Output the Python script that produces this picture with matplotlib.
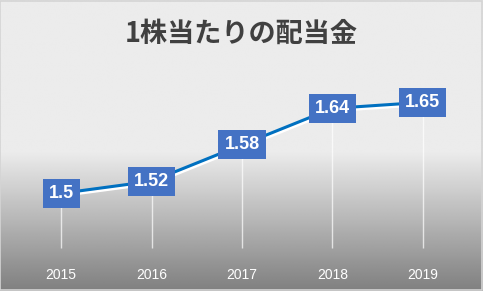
"""
1株当たりの配当金 — 折れ線グラフ（データラベル付き）
"""
import numpy as np
import matplotlib
matplotlib.use("Agg")
import matplotlib.pyplot as plt
import matplotlib.patheffects as pe

plt.rcParams["font.family"] = ["Noto Sans CJK JP", "DejaVu Sans"]

years = ["2015", "2016", "2017", "2018", "2019"]
dividends = [1.5, 1.52, 1.58, 1.64, 1.65]
title = "1株当たりの配当金"

W, H = 483, 291
fig = plt.figure(figsize=(W / 100, H / 100), dpi=100)

# 背景グラデーション（上は明るいグレー、下に向かって暗く）
bg = fig.add_axes([0, 0, 1, 1])
rows = np.linspace(0, 1, 300)
start = 0.52
shade = np.where(rows < start, 0.925,
                 0.925 - (rows - start) / (1 - start) * (0.925 - 0.50))
img = np.repeat(shade[:, None], 2, axis=1)
bg.imshow(img, cmap="gray", vmin=0, vmax=1, aspect="auto",
          extent=[0, 1, 1, 0], interpolation="bilinear")
bg.set_xlim(0, 1)
bg.set_ylim(1, 0)
bg.axis("off")
bg.add_patch(plt.Rectangle((0.001, 0.002), 0.997, 0.995, fill=False,
                           edgecolor="#d4d4d4", lw=1.2, transform=bg.transAxes))

# プロット領域（ピクセル位置から）
left, right, top, bottom = 16, 468, 72, 254
ax = fig.add_axes([left / W, 1 - bottom / H, (right - left) / W, (bottom - top) / H])
ax.patch.set_alpha(0)
for s in ax.spines.values():
    s.set_visible(False)

x = np.arange(len(years))
ax.set_xlim(-0.5, len(years) - 0.5)
ax.set_ylim(1.4, 1.7)
ax.set_yticks([])
ax.set_xticks(x)
ax.set_xticklabels(years, color="white", fontsize=10, family=["Liberation Sans", "DejaVu Sans"])
ax.tick_params(axis="x", length=0, pad=10)

# ドロップライン
ax.vlines(x, 1.41, dividends, colors="white", lw=1, alpha=0.7, zorder=1)

ax.plot(x, dividends, color="#0070C0", lw=2.2, zorder=3,
        path_effects=[pe.SimpleLineShadow(offset=(0.8, -1.6), shadow_color="white", alpha=1.0),
                      pe.Normal()])

for xi, v in zip(x, dividends):
    ax.text(xi, v, f"{v:g}", ha="center", va="center", color="white",
            fontsize=13, fontweight="bold", zorder=5,
            family=["Liberation Sans", "DejaVu Sans"],
            bbox=dict(boxstyle="square,pad=0.33", facecolor="#4472C4", edgecolor="none"))

fig.text(0.5, 1 - 34 / H, title, ha="center", va="center", fontsize=19.5,
         fontweight="bold", color="#404040")

fig.savefig("out.png", dpi=100)
print("Saved -> out.png")
